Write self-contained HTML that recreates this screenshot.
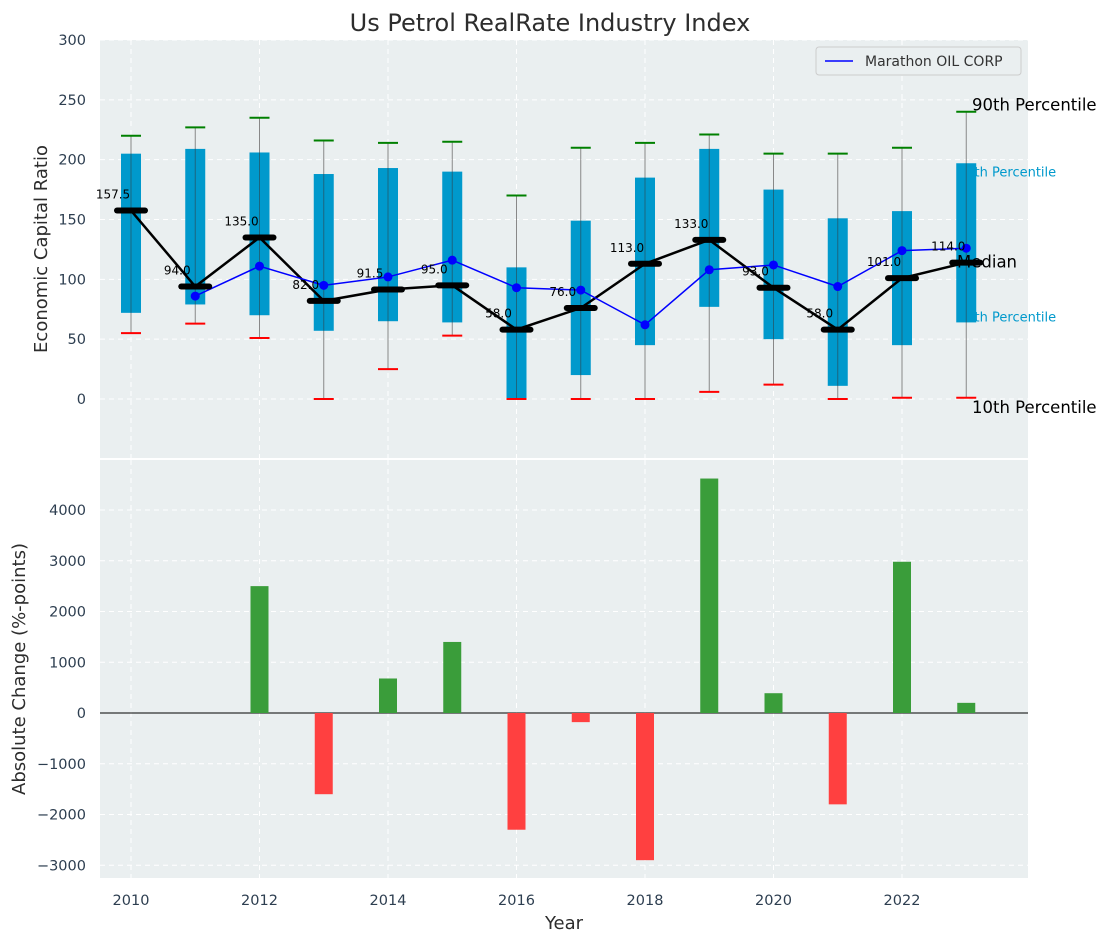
<!DOCTYPE html>
<html><head><meta charset="utf-8"><style>
body{margin:0;background:#fff;font-family:"Liberation Sans","DejaVu Sans",sans-serif;}
svg text{font-family:"DejaVu Sans","Liberation Sans",sans-serif;}
</style></head><body>
<svg id="c" width="1107" height="942" xmlns="http://www.w3.org/2000/svg"></svg>
<script>
const years=[2010,2011,2012,2013,2014,2015,2016,2017,2018,2019,2020,2021,2022,2023];
const q1=[72,79,70,57,65,64,0,20,45,77,50,11,45,64];
const q3=[205,209,206,188,193,190,110,149,185,209,175,151,157,197];
const wLow=[55,63,51,0,25,53,0,0,0,6,12,0,1,1];
const wHigh=[220,227,235,216,214,215,170,210,214,221,205,205,210,240];
const medians=[157.5,94,135,82,91.5,95,58,76,113,133,93,58,101,114];
const marathonYears=[2011,2012,2013,2014,2015,2016,2017,2018,2019,2020,2021,2022,2023];
const marathon=[86,111,95,102,116,93,91,62,108,112,94,124,126];
const changes=[0,0,2500,-1600,680,1400,-2300,-180,-2900,4620,390,-1800,2980,200];
const topTicks=[0,50,100,150,200,250,300];
const botTicks=[-3000,-2000,-1000,0,1000,2000,3000,4000];
const xTicks=[2010,2012,2014,2016,2018,2020,2022];

const NS="http://www.w3.org/2000/svg";
const svg=document.getElementById('c');
function el(t,a,txt){const e=document.createElementNS(NS,t);for(const k in a)e.setAttribute(k,a[k]);if(txt!==undefined)e.textContent=txt;svg.appendChild(e);return e;}
const X=y=>131+(y-2010)*64.25;
const YT=v=>399-v*1.1967;
const YB=v=>713-v*0.05075;
const L=100,R=1028;

let e;
e=el('rect',{x:L,y:40,width:R-L,height:418,fill:'#eaeff0'});

e=el('rect',{x:L,y:460,width:R-L,height:418,fill:'#eaeff0'});


topTicks.forEach(t=>{el('line',{x1:L,x2:R,y1:YT(t),y2:YT(t),stroke:'#fff','stroke-dasharray':'5,4','stroke-width':1});
 e=el('text',{x:86,y:YT(t)+5,'text-anchor':'end','font-size':14.5,fill:'#2d3e50'},t);
 });
botTicks.forEach(t=>{el('line',{x1:L,x2:R,y1:YB(t),y2:YB(t),stroke:'#fff','stroke-dasharray':'5,4','stroke-width':1});
 e=el('text',{x:86,y:YB(t)+5,'text-anchor':'end','font-size':14.5,fill:'#2d3e50'},t<0?'\u2212'+(-t):t);
 });
xTicks.forEach(t=>{el('line',{x1:X(t),x2:X(t),y1:40,y2:458,stroke:'#fff','stroke-dasharray':'5,4'});
 el('line',{x1:X(t),x2:X(t),y1:460,y2:878,stroke:'#fff','stroke-dasharray':'5,4'});
 e=el('text',{x:X(t),y:905,'text-anchor':'middle','font-size':14.5,fill:'#2d3e50'},t);
 });

const lx=X(2023);
el('text',{x:958,y:YT(190)+5,'font-size':13,fill:'#0099cc'},'75th Percentile');
el('text',{x:958,y:YT(69)+5,'font-size':13,fill:'#0099cc'},'25th Percentile');

years.forEach((y,i)=>{const x=X(y);
 e=el('line',{x1:x,x2:x,y1:YT(wLow[i]),y2:YT(wHigh[i]),stroke:'#888','stroke-width':1});
 
 e=el('rect',{x:x-10,y:YT(q3[i]),width:20,height:YT(q1[i])-YT(q3[i]),fill:'#0099cc'});
 
 el('line',{x1:x,x2:x,y1:YT(q1[i]),y2:YT(q3[i]),stroke:'#333','stroke-opacity':0.5,'stroke-width':1});
 el('line',{x1:x-10,x2:x+10,y1:YT(wHigh[i]),y2:YT(wHigh[i]),stroke:'green','stroke-width':2});
 el('line',{x1:x-10,x2:x+10,y1:YT(wLow[i]),y2:YT(wLow[i]),stroke:'red','stroke-width':2});
});
e=el('polyline',{points:years.map((y,i)=>X(y)+','+YT(medians[i])).join(' '),fill:'none',stroke:'#000','stroke-width':2.5});

e=el('polyline',{points:marathonYears.map((y,i)=>X(y)+','+YT(marathon[i])).join(' '),fill:'none',stroke:'#0000ff','stroke-width':1.5});

marathonYears.forEach((y,i)=>{e=el('circle',{cx:X(y),cy:YT(marathon[i]),r:4.5,fill:'#0000ff'});
 });
years.forEach((y,i)=>{const x=X(y);
 e=el('line',{x1:x-14,x2:x+14,y1:YT(medians[i]),y2:YT(medians[i]),stroke:'#000','stroke-width':6,'stroke-linecap':'round'});
 
 e=el('text',{x:x-18,y:YT(medians[i])-12,'text-anchor':'middle','font-size':12,fill:'#000'},medians[i].toFixed(1));
 
});
el('text',{x:972,y:YT(246)+6,'font-size':16.5,fill:'#000'},'90th Percentile');
el('text',{x:957,y:YT(114)+5,'font-size':16.5,fill:'#000'},'Median');
el('text',{x:972,y:YT(-6)+7,'font-size':16.5,fill:'#000'},'10th Percentile');

el('line',{x1:L,x2:R,y1:YB(0),y2:YB(0),stroke:'#000','stroke-width':1});
years.forEach((y,i)=>{const v=changes[i];if(!v)return;const x=X(y);
 e=el('rect',{x:x-9,y:Math.min(YB(0),YB(v)),width:18,height:Math.abs(YB(v)-YB(0)),fill:v>0?'#3a9d3a':'#ff4040'});
 });

e=el('rect',{x:816,y:47,width:205,height:28,fill:'#eaeff0',stroke:'#ccc',rx:3});

el('line',{x1:825,x2:853,y1:61,y2:61,stroke:'#0000ff','stroke-width':1.5});
e=el('text',{x:865,y:66,'font-size':14,fill:'#333'},'Marathon OIL CORP');


e=el('text',{x:550,y:31,'text-anchor':'middle','font-size':24,fill:'#2d2d2d'},'Us Petrol RealRate Industry Index');

e=el('text',{x:0,y:0,'text-anchor':'middle','font-size':18,fill:'#2d2d2d',transform:'translate(47,249) rotate(-90)'},'Economic Capital Ratio');

e=el('text',{x:0,y:0,'text-anchor':'middle','font-size':18,fill:'#2d2d2d',transform:'translate(25,669) rotate(-90)'},'Absolute Change (%-points)');

e=el('text',{x:564,y:929,'text-anchor':'middle','font-size':18,fill:'#2d2d2d'},'Year');

</script>
</body></html>
